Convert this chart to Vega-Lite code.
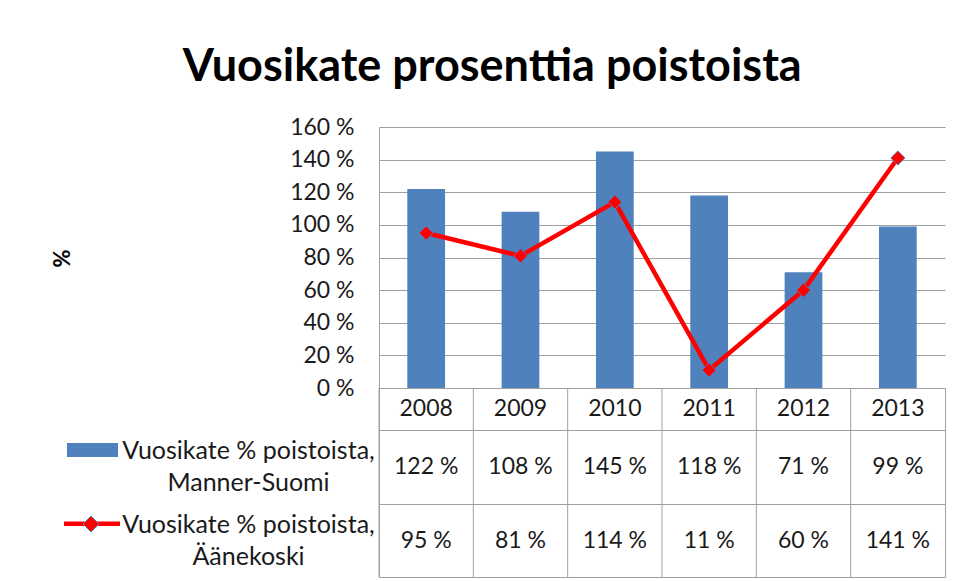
{
  "$schema": "https://vega.github.io/schema/vega-lite/v6.json",
  "padding": {"left": 51, "top": 45, "right": 0, "bottom": 0},
  "datasets": {
    "main": [
      {"year": "2008", "ms": 122, "aa": 95},
      {"year": "2009", "ms": 108, "aa": 81},
      {"year": "2010", "ms": 145, "aa": 114},
      {"year": "2011", "ms": 118, "aa": 11},
      {"year": "2012", "ms": 71, "aa": 60},
      {"year": "2013", "ms": 99, "aa": 141}
    ],
    "legend1": [{"label": "Vuosikate % poistoista,\nManner-Suomi"}],
    "legend2": [{"label": "Vuosikate % poistoista,\nÄänekoski"}],
    "blank": [{"label": ""}]
  },
  "title": {
    "text": "Vuosikate prosenttia poistoista",
    "font": "Lato",
    "fontSize": 45,
    "fontWeight": "bold",
    "color": "#000000",
    "anchor": "middle",
    "dx": -6,
    "offset": 26
  },
  "config": {
    "font": "Lato",
    "view": {"stroke": "#a0a0a0", "strokeWidth": 1},
    "text": {"font": "Lato", "fontSize": 23, "color": "#1a1a1a"},
    "rule": {"color": "#a0a0a0", "strokeWidth": 1},
    "axisY": {
      "values": [0, 20, 40, 60, 80, 100, 120, 140, 160],
      "labelExpr": "datum.value + ' %'",
      "labelOverlap": false,
      "grid": true, "gridColor": "#a0a0a0", "gridWidth": 1,
      "domainColor": "#a0a0a0", "ticks": false,
      "labelPadding": 25, "labelFont": "Lato", "labelFontSize": 23, "labelColor": "#1a1a1a",
      "titleFont": "Lato", "titleFontSize": 22, "titleFontWeight": "bold", "titleColor": "#000000",
      "titleX": -305, "titleY": 131
    }
  },
  "bounds": "flush",
  "spacing": 0,
  "align": "each",
  "columns": 2,
  "resolve": {"scale": {"x": "independent", "y": "independent"}},
  "concat": [
    {
      "width": 321, "height": 261,
      "view": {"stroke": null},
      "data": {"name": "blank"},
      "mark": {"type": "text"},
      "encoding": {"text": {"field": "label"}}
    },
    {
      "width": 566, "height": 261,
      "view": {"stroke": null},
      "data": {"name": "main"},
      "layer": [
        {
          "mark": {"type": "bar", "color": "#4F81BD"},
          "encoding": {
            "x": {"field": "year", "type": "ordinal", "scale": {"paddingInner": 0.6, "paddingOuter": 0.3}, "axis": null},
            "y": {"field": "ms", "type": "quantitative", "title": "%", "scale": {"domain": [0, 160], "nice": false},
                  "axis": {"values": [0, 20, 40, 60, 80, 100, 120, 140, 160], "title": "%"}}
          }
        },
        {
          "mark": {"type": "line", "color": "#FF0000", "strokeWidth": 4.5},
          "encoding": {
            "x": {"field": "year", "type": "ordinal"},
            "y": {"field": "aa", "type": "quantitative", "title": "%",
                  "axis": {"values": [0, 20, 40, 60, 80, 100, 120, 140, 160], "title": "%"}}
          }
        },
        {
          "mark": {"type": "point", "shape": "diamond", "filled": true, "size": 200, "fill": "#FF0000", "stroke": "#4F81BD", "strokeWidth": 1, "opacity": 1},
          "encoding": {
            "x": {"field": "year", "type": "ordinal"},
            "y": {"field": "aa", "type": "quantitative", "title": "%",
                  "axis": {"values": [0, 20, 40, 60, 80, 100, 120, 140, 160], "title": "%"}}
          }
        }
      ]
    },
    {
      "width": 321, "height": 42,
      "view": {"stroke": null},
      "data": {"name": "blank"},
      "mark": {"type": "text"},
      "encoding": {"text": {"field": "label"}}
    },
    {
      "width": 566, "height": 42,
      "data": {"name": "main"},
      "encoding": {
        "x": {"field": "year", "type": "ordinal", "scale": {"paddingInner": 0, "paddingOuter": 0}, "axis": null}
      },
      "layer": [
        {"mark": {"type": "rule"}, "encoding": {"x": {"field": "year", "type": "ordinal", "bandPosition": 0}}},
        {"mark": {"type": "text", "fontSize": 23}, "encoding": {"text": {"field": "year"}}}
      ]
    },
    {
      "width": 321, "height": 74,
      "data": {"name": "legend1"},
      "layer": [
        {
          "mark": {"type": "text", "lineBreak": "\n", "lineHeight": 32, "align": "center", "baseline": "middle", "dx": 30, "dy": -16, "fontSize": 25},
          "encoding": {"text": {"field": "label"}}
        },
        {
          "mark": {"type": "point", "filled": true, "opacity": 1, "color": "#4F81BD", "size": 4, "shape": "M-151.5,-24H-100.5V-10H-151.5Z"},
          "encoding": {}
        }
      ]
    },
    {
      "width": 566, "height": 74,
      "data": {"name": "main"},
      "transform": [{"calculate": "datum.ms + ' %'", "as": "lbl"}],
      "encoding": {
        "x": {"field": "year", "type": "ordinal", "scale": {"paddingInner": 0, "paddingOuter": 0}, "axis": null}
      },
      "layer": [
        {"mark": {"type": "rule"}, "encoding": {"x": {"field": "year", "type": "ordinal", "bandPosition": 0}}},
        {"mark": {"type": "text", "fontSize": 23}, "encoding": {"text": {"field": "lbl"}}}
      ]
    },
    {
      "width": 321, "height": 73,
      "data": {"name": "legend2"},
      "layer": [
        {
          "mark": {"type": "text", "lineBreak": "\n", "lineHeight": 32, "align": "center", "baseline": "middle", "dx": 30, "dy": -16, "fontSize": 25},
          "encoding": {"text": {"field": "label"}}
        },
        {
          "mark": {"type": "point", "filled": true, "opacity": 1, "color": "#FF0000", "size": 4, "shape": "M-154.5,-19H-98.5V-14.5H-154.5Z"},
          "encoding": {}
        },
        {
          "mark": {"type": "point", "filled": true, "opacity": 1, "fill": "#FF0000", "stroke": "#4F81BD", "strokeWidth": 1, "size": 4, "shape": "M-127.5,-24.5L-119.5,-16.5L-127.5,-8.5L-135.5,-16.5Z"},
          "encoding": {}
        }
      ]
    },
    {
      "width": 566, "height": 73,
      "data": {"name": "main"},
      "transform": [{"calculate": "datum.aa + ' %'", "as": "lbl"}],
      "encoding": {
        "x": {"field": "year", "type": "ordinal", "scale": {"paddingInner": 0, "paddingOuter": 0}, "axis": null}
      },
      "layer": [
        {"mark": {"type": "rule"}, "encoding": {"x": {"field": "year", "type": "ordinal", "bandPosition": 0}}},
        {"mark": {"type": "text", "fontSize": 23}, "encoding": {"text": {"field": "lbl"}}}
      ]
    }
  ]
}
